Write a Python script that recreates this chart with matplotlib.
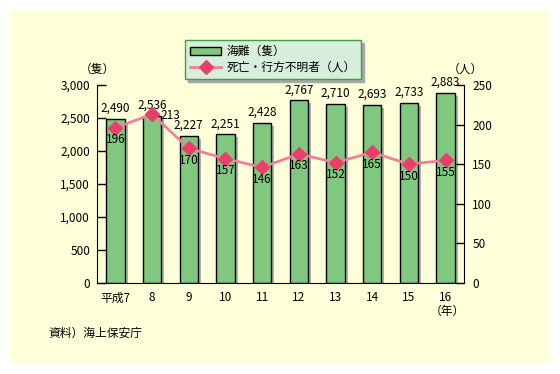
import matplotlib
matplotlib.use('Agg')
import matplotlib.pyplot as plt
from matplotlib.patches import Rectangle, Patch
from matplotlib.lines import Line2D
from matplotlib.transforms import ScaledTranslation
import numpy as np

plt.rcParams['font.family'] = ['Noto Sans CJK JP', 'DejaVu Sans']
plt.rcParams['font.size'] = 8.5

years = ['平成7', '8', '9', '10', '11', '12', '13', '14', '15', '16']
ships = [2490, 2536, 2227, 2251, 2428, 2767, 2710, 2693, 2733, 2883]
deaths = [196, 213, 170, 157, 146, 163, 152, 165, 150, 155]
left_ticks = [0, 500, 1000, 1500, 2000, 2500, 3000]
right_ticks = [0, 50, 100, 150, 200, 250]

BAR = '#80C880'
LINE = '#F08098'
MARK = '#E8406A'
FS = 8.5

fig = plt.figure(figsize=(5.6, 3.74), dpi=100)
fig.patches.append(Rectangle((10/560, 11/374), 540/560, 353/374,
                             transform=fig.transFigure, facecolor='#FFFFD9',
                             edgecolor='none', zorder=-10))
ax = fig.add_axes([97/560, 91/374, 367/560, 198/374])
ax.set_facecolor('none')
x = np.arange(len(years))
w = 0.5
shadow_tr = ax.transData + ScaledTranslation(3/100, -3/100, fig.dpi_scale_trans)
ax.bar(x, ships, w, color='#B0B0B0', edgecolor='none', transform=shadow_tr, zorder=1)
ax.bar(x, ships, w, color=BAR, edgecolor='black', linewidth=1, zorder=2)
for xi, v in zip(x, ships):
    ax.annotate(f'{v:,}', (xi, v), xytext=(0, 3), textcoords='offset points',
                ha='center', va='bottom', fontsize=FS)
ax.set_xlim(-0.5, len(years) - 0.5)
ax.set_ylim(0, 3000)
ax.set_yticks(left_ticks)
ax.set_yticklabels([f'{t:,}' for t in left_ticks])
ax.set_xticks(x)
ax.set_xticklabels(years)
ax.tick_params(axis='y', direction='in', length=6.5, width=1, pad=5)
ax.tick_params(axis='x', length=0, pad=6)
for s in ['top', 'right']:
    ax.spines[s].set_visible(False)

ax2 = ax.twinx()
ax2.set_ylim(0, 250)
ax2.set_yticks(right_ticks)
ax2.tick_params(axis='y', direction='in', length=6, width=1, pad=6)
for s in ['top', 'left', 'bottom']:
    ax2.spines[s].set_visible(False)
ax2.plot(x, deaths, color=LINE, lw=2, marker='D', ms=7, mfc=MARK, mec=MARK, zorder=3)
for i, (xi, v) in enumerate(zip(x, deaths)):
    if i == 1:
        ax2.annotate(str(v), (xi, v), xytext=(6, -1), textcoords='offset points',
                     ha='left', va='center', fontsize=FS)
    else:
        ax2.annotate(str(v), (xi, v), xytext=(0, -4), textcoords='offset points',
                     ha='center', va='top', fontsize=FS)

fig.text(97/560, 1 - 69/374, '（隻）', ha='center', va='center', fontsize=FS)
fig.text(465/560, 1 - 69/374, '（人）', ha='center', va='center', fontsize=FS)
fig.text(447/560, 1 - 311/374, '（年）', ha='center', va='center', fontsize=FS)
fig.text(48/560, 1 - 333/374, '資料）海上保安庁', ha='left', va='center', fontsize=FS)

handles = [Patch(facecolor=BAR, edgecolor='black', linewidth=1),
           Line2D([0], [0], color=LINE, lw=2, marker='D', ms=7, mfc=MARK, mec=MARK)]
labels = ['海難（隻）', '死亡・行方不明者（人）']
leg = fig.legend(handles, labels, loc='upper left', bbox_to_anchor=(185/560, 1 - 40/374),
                 frameon=True, fancybox=False, edgecolor='#40A040', facecolor='#D8EEDC',
                 framealpha=1, shadow={'color': '#A8A8A8', 'alpha': 1},
                 handlelength=2.6, labelspacing=0.2, borderaxespad=0,
                 handletextpad=0.5, borderpad=0.45, fontsize=FS)
leg.get_frame().set_linewidth(1)

fig.savefig('out.png', dpi=100)
